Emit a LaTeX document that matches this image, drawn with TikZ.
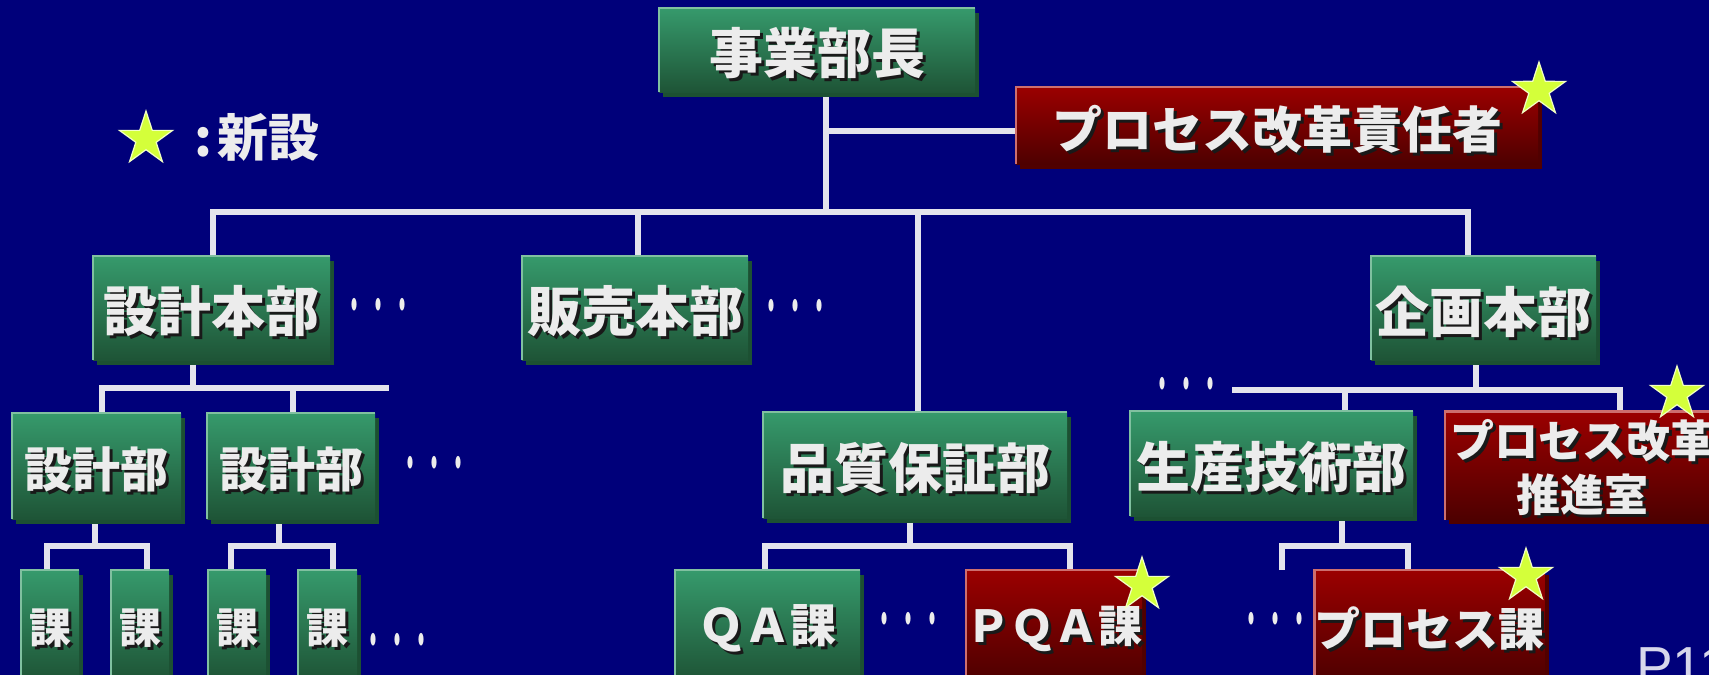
\documentclass[tikz,border=0pt]{standalone}
\usepackage{fontspec}
\newfontfamily\cjk{Noto Sans CJK JP}
\newfontfamily\pfont{Liberation Sans}
\usetikzlibrary{shadows,shapes.geometric,calc,backgrounds}
\definecolor{bg}{RGB}{0,0,122}
\definecolor{gtop}{RGB}{54,154,108}
\definecolor{gbot}{RGB}{30,84,54}
\definecolor{gshad}{RGB}{28,80,50}
\definecolor{gedge}{RGB}{128,192,160}
\definecolor{rtop}{RGB}{155,0,0}
\definecolor{rbot}{RGB}{78,0,0}
\definecolor{rshad}{RGB}{80,0,0}
\definecolor{redge}{RGB}{205,110,110}
\definecolor{txt}{RGB}{236,236,236}
\definecolor{shc}{RGB}{25,25,25}
\definecolor{linec}{RGB}{228,228,236}
\definecolor{starc}{RGB}{212,255,58}
\definecolor{pgc}{RGB}{215,215,235}
\newcommand\fs[1]{\fontsize{#1}{#1}\selectfont}
\newcommand\shd[1]{\rlap{\kern3pt\raisebox{-3pt}{\color{shc}#1}}#1}
\newcommand\sh[1]{\raisebox{-5pt}[\height][\depth]{\shd{#1}}}
\begin{document}
\begin{tikzpicture}[x=1pt,y=1pt,
  gbox/.style={top color=gtop,bottom color=gbot,inner sep=0pt,text=txt,
    drop shadow={shadow xshift=4pt,shadow yshift=-5pt,fill=gshad,opacity=1}},
  rbox/.style={top color=rtop,bottom color=rbot,inner sep=0pt,text=txt,
    drop shadow={shadow xshift=4pt,shadow yshift=-5pt,fill=rshad,opacity=1}},
  conn/.style={draw=linec,line width=5.5pt},
  dotsn/.style={text=txt,inner sep=0pt,font=\cjk\fs{60}},
  starn/.style={star,star points=5,star point ratio=2.618,minimum size=56pt,
    inner sep=0pt,fill=starc,draw=white!70!starc,line width=1.2pt},
  gedgel/.style={draw=gedge,line width=2.5pt},
  redgel/.style={draw=redge,line width=2.5pt}]
\useasboundingbox (0,0) rectangle (1709,-675);
\begin{scope}[on background layer]
\fill[bg] (0,0) rectangle (1709,-675);
\end{scope}

% junction coordinates
\coordinate (j0) at (826,-212);
\coordinate (jr) at (826,-131);
\coordinate (barR) at (1468,-212);
\coordinate (b1) at (193,-388);
\coordinate (b1R) at (389,-388);
\coordinate (c1) at (95,-546);
\coordinate (c1R) at (147,-546);
\coordinate (c2) at (279,-546);
\coordinate (c2R) at (333,-546);
\coordinate (q0) at (910,-546);
\coordinate (qR) at (1070,-546);
\coordinate (k0) at (1476,-390);
\coordinate (kL) at (1232,-390);
\coordinate (kR) at (1620,-390);
\coordinate (kM) at (1345,-390);
\coordinate (p0) at (1342,-546);
\coordinate (pR) at (1408,-546);
\coordinate (pEnd) at (1282,-570);

% boxes
\node[gbox,minimum width=316,minimum height=84,font=\cjk\bfseries\fs{54}] (ceo) at (817,-50) {\sh{事業部長}};
\node[rbox,minimum width=522,minimum height=77,font=\cjk\bfseries\fs{50}] (resp) at (1277,-125.5) {\sh{プロセス改革責任者}};
\node[gbox,minimum width=237,minimum height=104,font=\cjk\bfseries\fs{54}] (hq1) at (211.5,-308) {\sh{設計本部}};
\node[gbox,minimum width=226,minimum height=104,font=\cjk\bfseries\fs{54}] (hq2) at (635,-308) {\sh{販売本部}};
\node[gbox,minimum width=225,minimum height=104,font=\cjk\bfseries\fs{54}] (hq3) at (1483.5,-308) {\sh{企画本部}};
\node[gbox,minimum width=169,minimum height=106,font=\cjk\bfseries\fs{48}] (dep1) at (96.5,-466) {\sh{設計部}};
\node[gbox,minimum width=168,minimum height=106,font=\cjk\bfseries\fs{48}] (dep2) at (291,-466) {\sh{設計部}};
\node[gbox,minimum width=304,minimum height=106,font=\cjk\bfseries\fs{54}] (qa) at (915,-465) {\sh{品質保証部}};
\node[gbox,minimum width=283,minimum height=105,font=\cjk\bfseries\fs{54}] (pe) at (1271.5,-463.5) {\sh{生産技術部}};
\node[rbox,minimum width=275,minimum height=105,font=\cjk\bfseries\fontsize{44}{53}\selectfont] (prom) at (1582.5,-465.5)
  {\raisebox{-8pt}[\height][\depth]{\begin{tabular}{@{}c@{}}\shd{プロセス改革}\\\shd{推進室}\end{tabular}}};
\node[gbox,minimum width=58,minimum height=110,font=\cjk\bfseries\fs{42}] (ka1) at (50,-625) {\sh{課}};
\node[gbox,minimum width=58,minimum height=110,font=\cjk\bfseries\fs{42}] (ka2) at (140,-625) {\sh{課}};
\node[gbox,minimum width=58,minimum height=110,font=\cjk\bfseries\fs{42}] (ka3) at (237,-625) {\sh{課}};
\node[gbox,minimum width=59,minimum height=110,font=\cjk\bfseries\fs{42}] (ka4) at (327.5,-625) {\sh{課}};
\node[gbox,minimum width=185,minimum height=110,font=\cjk\bfseries\fs{46}] (qak) at (767.5,-625) {\sh{ＱＡ課}};
\node[rbox,minimum width=172,minimum height=110,font=\cjk\bfseries\fs{44}] (pqa) at (1054,-625) {\sh{ＰＱＡ課}};
\node[rbox,minimum width=221,minimum height=110,font=\cjk\bfseries\fs{46}] (prk) at (1429.5,-625) {\sh{プロセス課}};

% connectors, from node to node (behind the boxes)
\begin{scope}[on background layer]
\draw[conn] (ceo.south -| j0) -- (j0);
\draw[conn] (jr) -- (resp.west |- jr);
\draw[conn] ([xshift=1.5pt]hq1.north) |- (barR) -- (barR |- hq3.north);
\draw[conn] ([xshift=3pt]hq2.north) -- ([xshift=3pt]hq2.north |- j0);
\draw[conn] ([xshift=3pt]qa.north) -- ([xshift=3pt]qa.north |- j0);
\draw[conn] (hq1.south -| b1) -- (b1);
\draw[conn] ([xshift=5.5pt]dep1.north) |- (b1R);
\draw[conn] ([xshift=2pt]dep2.north) -- ([xshift=2pt]dep2.north |- b1R);
\draw[conn] (dep1.south -| c1) -- (c1);
\draw[conn] ([xshift=-3pt]ka1.north) |- (c1R) -- (c1R |- ka2.north);
\draw[conn] (dep2.south -| c2) -- (c2);
\draw[conn] ([xshift=-6pt]ka3.north) |- (c2R) -- (c2R |- ka4.north);
\draw[conn] (qa.south -| q0) -- (q0);
\draw[conn] ([xshift=-2.5pt]qak.north) |- (qR) -- (qR |- pqa.north);
\draw[conn] (hq3.south -| k0) -- (k0);
\draw[conn] (kL) -- (kR) -- (kR |- prom.north);
\draw[conn] (kM) -- (kM |- pe.north);
\draw[conn] (pe.south -| p0) -- (p0);
\draw[conn] (pEnd) |- (pR) -- (pR |- prk.north);
\end{scope}

% light top/left edges
\foreach \n in {ceo,hq1,hq2,hq3,dep1,dep2,qa,pe,ka1,ka2,ka3,ka4,qak}
  \draw[gedgel] (\n.south west) -- (\n.north west) -- (\n.north east);
\foreach \n in {resp,prom,pqa,prk}
  \draw[redgel] (\n.south west) -- (\n.north west) -- (\n.north east);

% ellipsis dots
\node[dotsn] (dt1) at (378,-313) {\scalebox{0.4}[1]{・・・}};
\node[dotsn] (dt2) at (795,-314) {\scalebox{0.4}[1]{・・・}};
\node[dotsn] (dt3) at (434,-471) {\scalebox{0.4}[1]{・・・}};
\node[dotsn] (dt4) at (1186,-392) {\scalebox{0.4}[1]{・・・}};
\node[dotsn] (dt5) at (397,-648) {\scalebox{0.4}[1]{・・・}};
\node[dotsn] (dt6) at (908,-627) {\scalebox{0.4}[1]{・・・}};
\node[dotsn] (dt7) at (1275,-627) {\scalebox{0.4}[1]{・・・}};

% stars
\node[starn] (s0) at (146,-139) {};
\node[starn] (s1) at (1539,-90) {};
\node[starn] (s2) at (1677,-394) {};
\node[starn] (s3) at (1142,-585) {};
\node[starn] (s4) at (1526,-576) {};

% legend text
\node[anchor=west,inner sep=0pt,text=txt,font=\cjk\bfseries\fs{51}] (legend) at (194,-137) {:\kern5pt新設};

% page number
\node[anchor=north west,inner sep=0pt,text=pgc,font=\pfont\fs{55}] (pg) at (1636,-647) {P11};
\end{tikzpicture}
\end{document}
